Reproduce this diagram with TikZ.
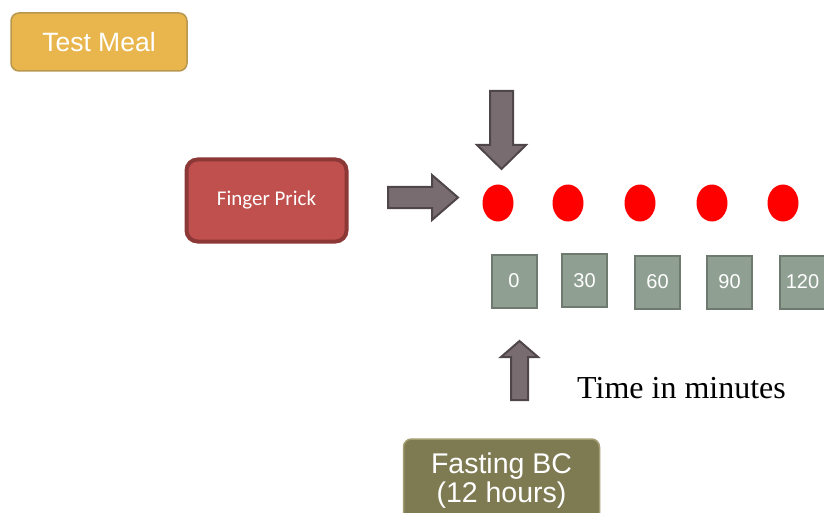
\documentclass[tikz,border=0pt]{standalone}
\usepackage{fontspec}
\setmainfont{Liberation Serif}
\newfontfamily\arialf{Liberation Sans}
\newfontfamily\calibrif{Carlito}
\usetikzlibrary{shapes.geometric}
\definecolor{mealfill}{HTML}{E8B64C}
\definecolor{mealdraw}{HTML}{B8974E}
\definecolor{prickfill}{HTML}{C0504D}
\definecolor{prickdraw}{HTML}{8C3836}
\definecolor{arrfill}{HTML}{786C70}
\definecolor{arrdraw}{HTML}{4F4649}
\definecolor{boxfill}{HTML}{8FA093}
\definecolor{boxdraw}{HTML}{6E7A70}
\definecolor{fastfill}{HTML}{7E7A52}
\definecolor{fastdraw}{HTML}{A39D72}
\tikzset{
  mealbox/.style={draw=mealdraw, fill=mealfill, line width=1.5pt, rounded corners=8pt,
    minimum width=176pt, minimum height=58pt, text=white, font=\arialf\fontsize{26.5}{30}\selectfont},
  prickbox/.style={draw=prickdraw, fill=prickfill, line width=4pt, rounded corners=11pt,
    minimum width=160pt, minimum height=82pt, text=white, font=\calibrif\fontsize{21}{24}\selectfont},
  timebox/.style={draw=boxdraw, fill=boxfill, line width=2pt,
    minimum width=45pt, minimum height=53pt, inner sep=0pt, text=white, font=\arialf\fontsize{20}{24}\selectfont},
  fastbox/.style={draw=fastdraw, fill=fastfill, line width=1.5pt, rounded corners=8pt,
    minimum width=196pt, minimum height=82pt, text=white, align=center,
    font=\arialf\fontsize{28.5}{29}\selectfont},
  blockarrow/.style={draw=arrdraw, fill=arrfill, line width=2pt, line join=miter},
  dot/.style={ellipse, fill=red, minimum width=31pt, minimum height=37pt, inner sep=0pt},
}
\begin{document}
\begin{tikzpicture}[x=1pt,y=-1pt]
\useasboundingbox (0,0) rectangle (824,513);
\node[mealbox] (meal) at (99,42) {Test Meal};
\node[prickbox] (prick) at (266.5,200.5) {Finger Prick};
\node[dot] (d0) at (498,203) {};
\node[dot] (d1) at (568,203) {};
\node[dot] (d2) at (640,203) {};
\node[dot] (d3) at (712,203) {};
\node[dot] (d4) at (783,203) {};
\node[timebox] (t0) at (514,281) {0};
\node[timebox] (t1) at (584.5,280.5) {30};
\node[timebox] (t2) at (657.5,282) {60};
\node[timebox] (t3) at (729.5,282) {90};
\node[timebox] (t4) at (802.5,282) {120};
\node[fastbox] (fast) at (501.5,480) {};
\node[text=white, align=center, font=\arialf\fontsize{28.5}{29}\selectfont] (fasttext) at (501.5,481) {Fasting BC\\(12 hours)};
\node[font=\fontsize{32}{36}\selectfont, anchor=base west, inner sep=0pt] (time) at (577,398) {Time in minutes};
% right arrow (Finger Prick -> first dot)
\draw[blockarrow] (388,187) -- (432,187) -- (432,175) -- (458,197.5) -- (432,220) -- (432,208) -- (388,208) -- cycle;
% down arrow (above first dot)
\draw[blockarrow] (490,91) -- (513,91) -- (513,145) -- (526,145) -- (501.5,169) -- (477,145) -- (490,145) -- cycle;
% up arrow (from Fasting BC to time 0)
\draw[blockarrow] (511,400) -- (528,400) -- (528,357) -- (538,357) -- (519.5,341) -- (501,357) -- (511,357) -- cycle;
\end{tikzpicture}
\end{document}
